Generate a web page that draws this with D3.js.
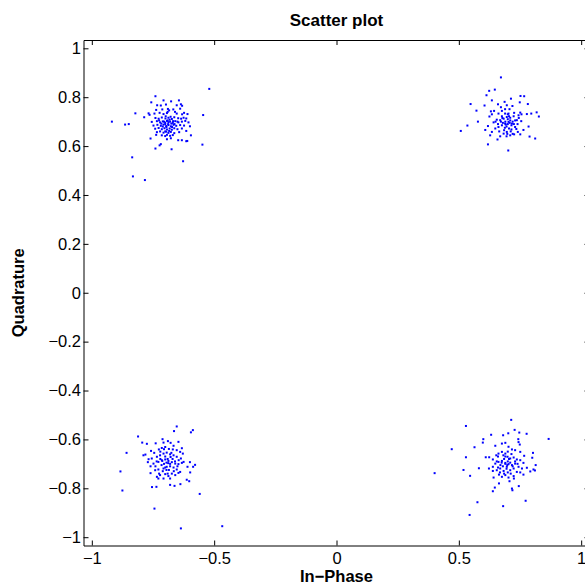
<!DOCTYPE html>
<html lang="en">

<head>
  <meta charset="utf-8">
  <script src="https://d3js.org/d3.v7.min.js"></script>
  <style>
    body {
      margin: 0;
      background: white;
    }

    .tick text {
      font-family: "Liberation Sans", Arial, sans-serif;
      font-size: 16.5px;
      fill: black;
    }

    .tick line,
    .domain {
      stroke: black;
      stroke-width: 1px;
    }

    .lbl {
      font-family: "Liberation Sans", Arial, sans-serif;
      font-weight: bold;
      font-size: 16.5px;
      fill: black;
    }

    .dot {
      fill: #0000ff;
    }
  </style>
</head>

<body>
  <script>

    // tick values
    var xTicks = [-1, -0.5, 0, 0.5, 1];
    var yTicks = [-1, -0.8, -0.6, -0.4, -0.2, 0, 0.2, 0.4, 0.6, 0.8, 1];

    // received symbols (I, Q)
    var clusterTL = [
      [-0.520, 0.834], [-0.740, 0.804], [-0.644, 0.787], [-0.707, 0.787], [-0.676, 0.783],
      [-0.757, 0.779], [-0.636, 0.771], [-0.631, 0.765], [-0.733, 0.767], [-0.718, 0.766],
      [-0.697, 0.770], [-0.653, 0.767], [-0.689, 0.752], [-0.667, 0.750], [-0.684, 0.746],
      [-0.737, 0.748], [-0.712, 0.750], [-0.639, 0.753], [-0.822, 0.734], [-0.768, 0.734],
      [-0.764, 0.728], [-0.744, 0.733], [-0.723, 0.736], [-0.707, 0.731], [-0.693, 0.735],
      [-0.653, 0.733], [-0.631, 0.730], [-0.623, 0.736], [-0.609, 0.731], [-0.545, 0.727],
      [-0.786, 0.718], [-0.740, 0.715], [-0.727, 0.712], [-0.714, 0.717], [-0.699, 0.713],
      [-0.687, 0.716], [-0.673, 0.711], [-0.663, 0.718], [-0.647, 0.714], [-0.635, 0.712],
      [-0.625, 0.716], [-0.614, 0.713], [-0.918, 0.700], [-0.755, 0.699], [-0.734, 0.702],
      [-0.721, 0.697], [-0.710, 0.701], [-0.700, 0.696], [-0.693, 0.703], [-0.687, 0.698],
      [-0.680, 0.700], [-0.669, 0.695], [-0.659, 0.702], [-0.646, 0.697], [-0.632, 0.700],
      [-0.618, 0.703], [-0.605, 0.697], [-0.864, 0.688], [-0.849, 0.690], [-0.748, 0.684],
      [-0.732, 0.687], [-0.718, 0.683], [-0.707, 0.688], [-0.696, 0.682], [-0.687, 0.686],
      [-0.677, 0.681], [-0.666, 0.687], [-0.655, 0.683], [-0.639, 0.686], [-0.623, 0.684],
      [-0.599, 0.681], [-0.741, 0.671], [-0.727, 0.674], [-0.714, 0.669], [-0.703, 0.673],
      [-0.693, 0.668], [-0.682, 0.672], [-0.673, 0.667], [-0.663, 0.673], [-0.650, 0.669],
      [-0.632, 0.672], [-0.614, 0.662], [-0.734, 0.657], [-0.721, 0.660], [-0.707, 0.655],
      [-0.696, 0.659], [-0.687, 0.654], [-0.677, 0.658], [-0.663, 0.653], [-0.643, 0.657],
      [-0.714, 0.644], [-0.700, 0.641], [-0.693, 0.646], [-0.680, 0.642], [-0.669, 0.645],
      [-0.595, 0.644], [-0.737, 0.646], [-0.760, 0.631], [-0.693, 0.628], [-0.677, 0.632],
      [-0.647, 0.624], [-0.632, 0.624], [-0.614, 0.620], [-0.610, 0.621], [-0.723, 0.603],
      [-0.718, 0.608], [-0.740, 0.590], [-0.674, 0.587], [-0.548, 0.606], [-0.835, 0.554],
      [-0.627, 0.538], [-0.832, 0.476], [-0.783, 0.461], [-0.690, 0.705], [-0.700, 0.690],
      [-0.675, 0.692], [-0.695, 0.678], [-0.682, 0.708], [-0.705, 0.700], [-0.668, 0.702],
      [-0.688, 0.690], [-0.678, 0.720], [-0.710, 0.680], [-0.662, 0.690], [-0.698, 0.722],
      [-0.716, 0.692], [-0.684, 0.662], [-0.672, 0.678], [-0.650, 0.700], [-0.700, 0.660],
      [-0.725, 0.705], [-0.660, 0.740], [-0.690, 0.740]
    ];

    var clusterTR = [
      [0.672, 0.881], [0.624, 0.826], [0.647, 0.831], [0.613, 0.808], [0.752, 0.805],
      [0.767, 0.804], [0.713, 0.794], [0.635, 0.787], [0.548, 0.772], [0.605, 0.766],
      [0.687, 0.781], [0.719, 0.764], [0.749, 0.779], [0.782, 0.772], [0.572, 0.745],
      [0.660, 0.771], [0.672, 0.759], [0.696, 0.767], [0.707, 0.751], [0.689, 0.751],
      [0.676, 0.744], [0.644, 0.744], [0.631, 0.742], [0.726, 0.736], [0.751, 0.737],
      [0.756, 0.730], [0.778, 0.731], [0.796, 0.733], [0.818, 0.738], [0.827, 0.721],
      [0.744, 0.726], [0.662, 0.733], [0.635, 0.730], [0.625, 0.721], [0.578, 0.700],
      [0.535, 0.684], [0.508, 0.662], [0.608, 0.666], [0.619, 0.682], [0.642, 0.697],
      [0.655, 0.708], [0.669, 0.706], [0.683, 0.712], [0.696, 0.719], [0.710, 0.716],
      [0.724, 0.722], [0.737, 0.706], [0.755, 0.702], [0.785, 0.680], [0.764, 0.666],
      [0.730, 0.678], [0.717, 0.692], [0.703, 0.699], [0.689, 0.692], [0.676, 0.685],
      [0.662, 0.678], [0.649, 0.672], [0.635, 0.658], [0.628, 0.644], [0.658, 0.627],
      [0.669, 0.640], [0.683, 0.651], [0.696, 0.658], [0.710, 0.644], [0.726, 0.648],
      [0.741, 0.658], [0.751, 0.648], [0.789, 0.639], [0.812, 0.631], [0.619, 0.607],
      [0.702, 0.582], [0.676, 0.722], [0.703, 0.733], [0.689, 0.733], [0.690, 0.700],
      [0.700, 0.690], [0.710, 0.705], [0.695, 0.680], [0.705, 0.672], [0.715, 0.685],
      [0.685, 0.665], [0.720, 0.700], [0.680, 0.695], [0.700, 0.710], [0.692, 0.688],
      [0.708, 0.695], [0.715, 0.668], [0.725, 0.690], [0.672, 0.700], [0.698, 0.650],
      [0.688, 0.675], [0.712, 0.660], [0.730, 0.705], [0.660, 0.690], [0.705, 0.722],
      [0.740, 0.690], [0.665, 0.660], [0.720, 0.650], [0.695, 0.640], [0.745, 0.715],
      [0.650, 0.700], [0.678, 0.715], [0.735, 0.670], [0.700, 0.730]
    ];

    var clusterBL = [
      [-0.653, -0.547], [-0.664, -0.566], [-0.595, -0.571], [-0.587, -0.562], [-0.811, -0.588],
      [-0.794, -0.613], [-0.775, -0.618], [-0.739, -0.616], [-0.711, -0.599], [-0.707, -0.613],
      [-0.689, -0.607], [-0.678, -0.614], [-0.646, -0.610], [-0.666, -0.626], [-0.632, -0.636],
      [-0.858, -0.655], [-0.789, -0.665], [-0.781, -0.662], [-0.758, -0.647], [-0.745, -0.655],
      [-0.726, -0.641], [-0.714, -0.635], [-0.700, -0.631], [-0.685, -0.639], [-0.669, -0.641],
      [-0.653, -0.644], [-0.639, -0.651], [-0.628, -0.658], [-0.768, -0.681], [-0.755, -0.678],
      [-0.734, -0.671], [-0.721, -0.665], [-0.707, -0.658], [-0.694, -0.654], [-0.680, -0.661],
      [-0.666, -0.665], [-0.653, -0.671], [-0.636, -0.678], [-0.625, -0.692], [-0.599, -0.693],
      [-0.578, -0.704], [-0.586, -0.712], [-0.771, -0.693], [-0.748, -0.699], [-0.728, -0.692],
      [-0.714, -0.685], [-0.700, -0.682], [-0.687, -0.688], [-0.673, -0.693], [-0.659, -0.699],
      [-0.646, -0.701], [-0.632, -0.696], [-0.609, -0.712], [-0.883, -0.731], [-0.760, -0.738],
      [-0.741, -0.726], [-0.728, -0.723], [-0.707, -0.719], [-0.694, -0.712], [-0.680, -0.710],
      [-0.666, -0.715], [-0.653, -0.723], [-0.639, -0.733], [-0.598, -0.735], [-0.734, -0.753],
      [-0.721, -0.746], [-0.700, -0.742], [-0.687, -0.750], [-0.673, -0.740], [-0.659, -0.746],
      [-0.646, -0.737], [-0.728, -0.760], [-0.707, -0.760], [-0.612, -0.765], [-0.602, -0.771],
      [-0.754, -0.795], [-0.736, -0.794], [-0.680, -0.786], [-0.662, -0.790], [-0.638, -0.783],
      [-0.875, -0.809], [-0.559, -0.823], [-0.744, -0.883], [-0.636, -0.964], [-0.467, -0.955],
      [-0.695, -0.695], [-0.690, -0.680], [-0.705, -0.700], [-0.680, -0.700], [-0.700, -0.670],
      [-0.715, -0.705], [-0.685, -0.725], [-0.670, -0.680], [-0.710, -0.730], [-0.660, -0.690],
      [-0.720, -0.680], [-0.690, -0.740], [-0.675, -0.655], [-0.740, -0.710], [-0.650, -0.710],
      [-0.700, -0.715], [-0.688, -0.697], [-0.678, -0.672], [-0.712, -0.688], [-0.695, -0.725],
      [-0.735, -0.690], [-0.665, -0.730], [-0.720, -0.650], [-0.645, -0.685], [-0.705, -0.640],
      [-0.760, -0.710], [-0.680, -0.760], [-0.725, -0.740]
    ];

    var clusterBR = [
      [0.714, -0.520], [0.529, -0.545], [0.728, -0.561], [0.747, -0.572], [0.777, -0.577],
      [0.632, -0.581], [0.681, -0.583], [0.702, -0.575], [0.867, -0.598], [0.600, -0.599],
      [0.598, -0.613], [0.743, -0.599], [0.744, -0.611], [0.749, -0.621], [0.471, -0.640],
      [0.564, -0.632], [0.649, -0.626], [0.676, -0.617], [0.690, -0.614], [0.703, -0.630],
      [0.717, -0.641], [0.730, -0.644], [0.751, -0.651], [0.767, -0.667], [0.803, -0.655],
      [0.800, -0.675], [0.610, -0.673], [0.624, -0.673], [0.529, -0.673], [0.639, -0.682],
      [0.653, -0.665], [0.662, -0.658], [0.676, -0.651], [0.690, -0.658], [0.699, -0.671],
      [0.710, -0.678], [0.724, -0.674], [0.737, -0.682], [0.751, -0.685], [0.764, -0.696],
      [0.649, -0.699], [0.662, -0.692], [0.676, -0.688], [0.690, -0.696], [0.703, -0.701],
      [0.717, -0.705], [0.730, -0.699], [0.744, -0.712], [0.758, -0.719], [0.778, -0.716],
      [0.792, -0.731], [0.805, -0.723], [0.814, -0.705], [0.811, -0.727], [0.401, -0.738],
      [0.519, -0.725], [0.546, -0.749], [0.582, -0.718], [0.623, -0.719], [0.639, -0.712],
      [0.639, -0.729], [0.655, -0.726], [0.669, -0.719], [0.683, -0.729], [0.696, -0.712],
      [0.710, -0.726], [0.724, -0.719], [0.737, -0.733], [0.751, -0.735], [0.764, -0.744],
      [0.642, -0.756], [0.664, -0.744], [0.676, -0.753], [0.690, -0.746], [0.703, -0.756],
      [0.707, -0.771], [0.724, -0.750], [0.745, -0.791], [0.664, -0.780], [0.647, -0.797],
      [0.639, -0.812], [0.717, -0.801], [0.719, -0.808], [0.773, -0.851], [0.576, -0.857],
      [0.681, -0.873], [0.544, -0.909], [0.690, -0.700], [0.700, -0.690], [0.680, -0.710],
      [0.695, -0.720], [0.710, -0.695], [0.685, -0.680], [0.670, -0.705], [0.705, -0.680],
      [0.720, -0.710], [0.675, -0.695], [0.690, -0.670], [0.700, -0.735], [0.660, -0.715],
      [0.715, -0.660], [0.685, -0.740], [0.730, -0.690], [0.655, -0.690], [0.698, -0.705],
      [0.682, -0.665], [0.712, -0.740], [0.668, -0.735], [0.740, -0.700], [0.700, -0.650],
      [0.660, -0.670], [0.725, -0.760]
    ];

    var w = 585,
      h = 587,
      lim = 1.034,
      plotL = 83.5,
      plotR = 589.5,
      plotT = 40,
      plotB = 545.5;

    var svg = d3.select("body")
      .append("svg")
      .attr("width", w)
      .attr("height", h);

    var x = d3.scaleLinear().domain([-lim, lim]).range([plotL, plotR]);
    var y = d3.scaleLinear().domain([-lim, lim]).range([plotB, plotT]);

    var fmt = d3.format("~g");

    // points first, axes over them
    var points = clusterTL.concat(clusterTR, clusterBL, clusterBR);

    svg.append("g")
      .selectAll("rect")
      .data(points)
      .enter()
      .append("rect")
      .attr("class", "dot")
      .attr("x", function (d) { return x(d[0]) - 1; })
      .attr("y", function (d) { return y(d[1]) - 1; })
      .attr("width", 2)
      .attr("height", 2);

    // ticks point inward like matlab
    svg.append("g")
      .attr("transform", "translate(0," + plotB + ")")
      .call(d3.axisBottom(x).tickValues(xTicks).tickFormat(fmt)
        .tickSizeInner(-5).tickSizeOuter(0).tickPadding(7));

    svg.append("g")
      .attr("transform", "translate(0," + plotT + ")")
      .call(d3.axisTop(x).tickValues(xTicks).tickFormat("")
        .tickSizeInner(-5).tickSizeOuter(0));

    svg.append("g")
      .attr("transform", "translate(" + plotL + ",0)")
      .call(d3.axisLeft(y).tickValues(yTicks).tickFormat(fmt)
        .tickSizeInner(-5).tickSizeOuter(0).tickPadding(2.5));

    svg.append("g")
      .attr("transform", "translate(" + plotR + ",0)")
      .call(d3.axisRight(y).tickValues(yTicks).tickFormat("")
        .tickSizeInner(-5).tickSizeOuter(0));

    svg.selectAll("g").attr("font-family", null).attr("font-size", null);

    svg.append("text")
      .attr("class", "lbl")
      .attr("x", (plotL + plotR) / 2)
      .attr("y", 26)
      .attr("text-anchor", "middle")
      .style("font-size", "17px")
      .text("Scatter plot");

    svg.append("text")
      .attr("class", "lbl")
      .attr("x", (plotL + plotR) / 2)
      .attr("y", 581.5)
      .attr("text-anchor", "middle")
      .text("In\u2212Phase");

    svg.append("text")
      .attr("class", "lbl")
      .attr("transform", "translate(24," + (plotT + plotB) / 2 + ") rotate(-90)")
      .attr("text-anchor", "middle")
      .text("Quadrature");

  </script>
</body>

</html>
